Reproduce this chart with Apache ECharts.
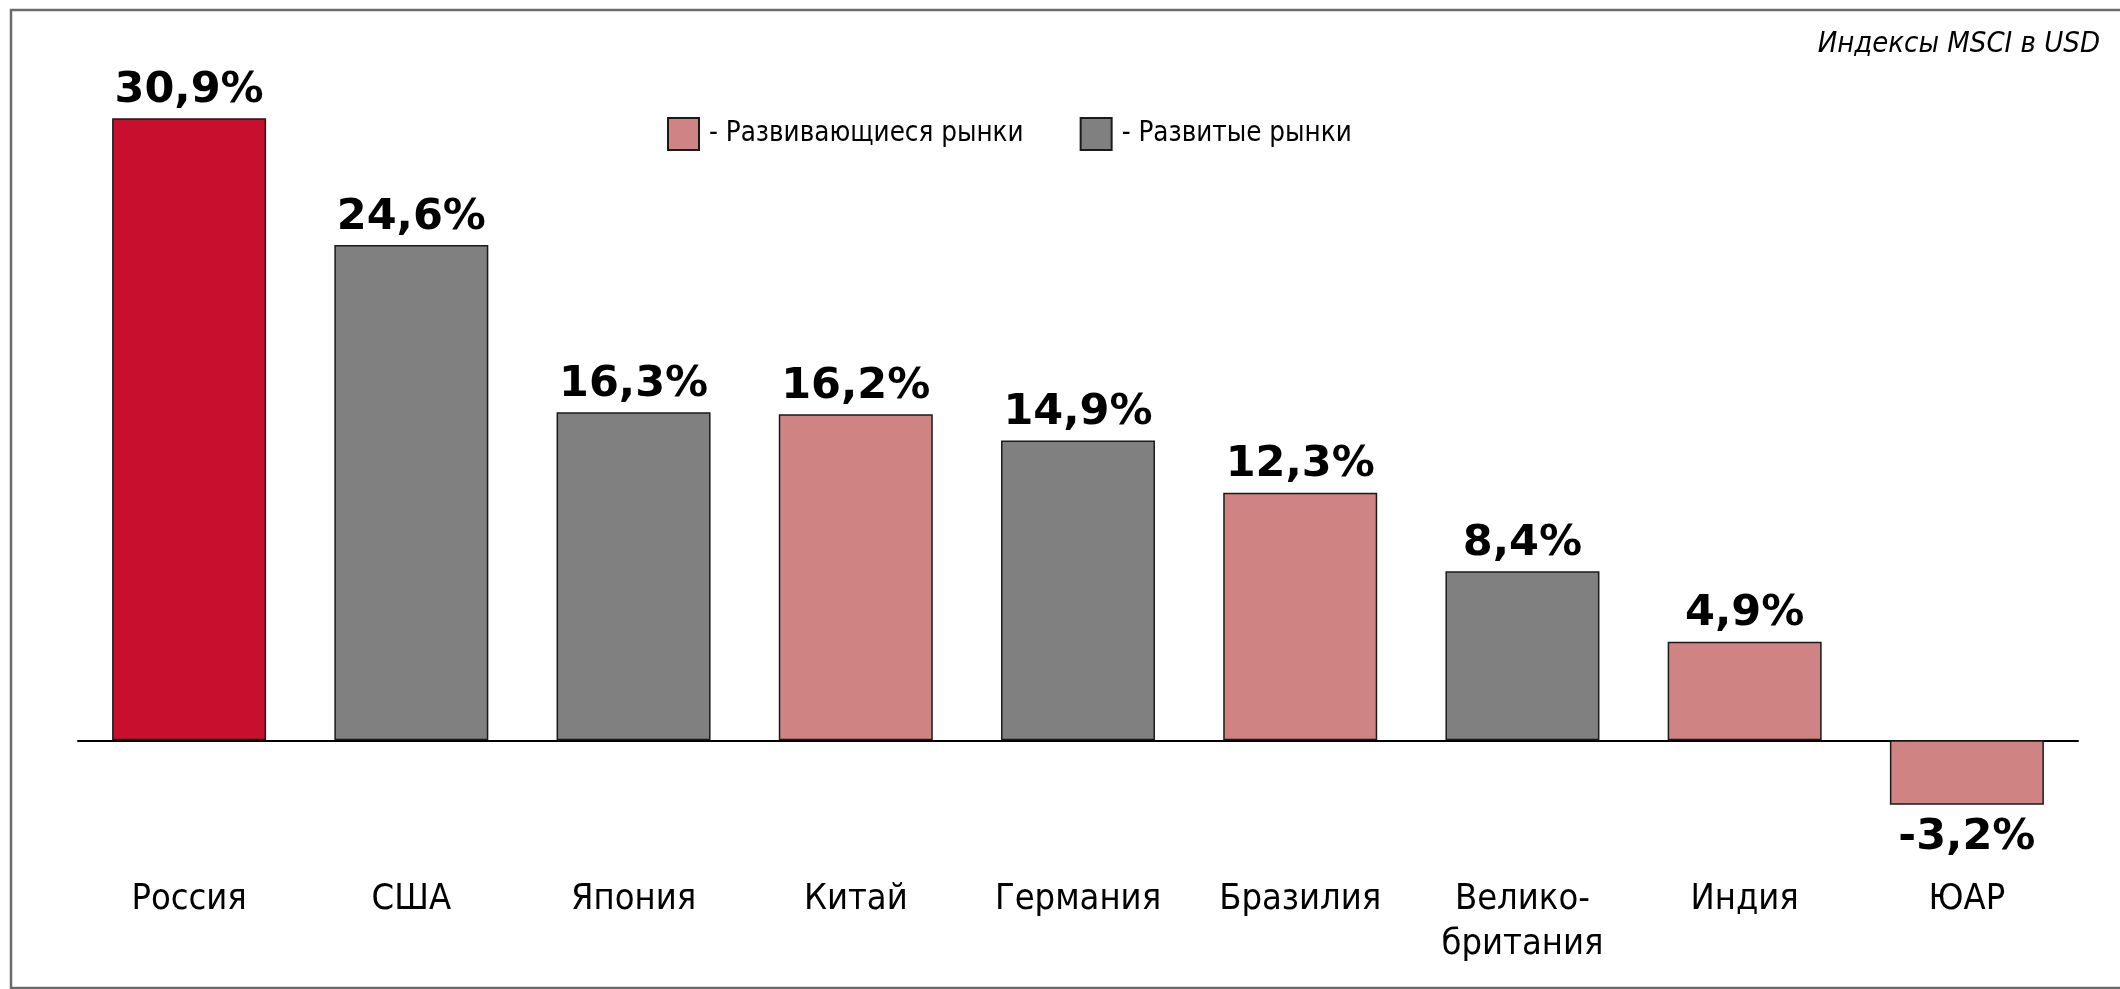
<!DOCTYPE html>
<html>
<head>
<meta charset="utf-8">
<title>Индексы MSCI в USD</title>
<script src="https://cdn.jsdelivr.net/npm/echarts@6/dist/echarts.min.js"></script>
<style>
  html, body { margin: 0; padding: 0; background: #fff; }
  #chart { width: 2120px; height: 989px; }
</style>
</head>
<body>
<div id="chart"></div>
<script>
// данные
const countries = ['Россия', 'США', 'Япония', 'Китай', 'Германия', 'Бразилия', 'Велико-\nбритания', 'Индия', 'ЮАР']
const returns = [30.9, 24.6, 16.3, 16.2, 14.9, 12.3, 8.4, 4.9, -3.2]
// тип рынка: focus - Россия, em - развивающиеся, dm - развитые
const marketType = ['focus', 'dm', 'dm', 'em', 'dm', 'em', 'dm', 'em', 'em']
const legendNames = ['Развивающиеся рынки', 'Развитые рынки']

const colors = { focus: '#c8102e', em: '#d08383', dm: '#808080' }
const font = '"DejaVu Sans Condensed", "Liberation Sans", sans-serif'

const barData = returns.map((v, i) => ({
  value: v,
  itemStyle: { color: colors[marketType[i]] },
  label: v < 0 ? { position: 'bottom', distance: 12 } : { position: 'top', distance: 6 }
}))

const option = {
  animation: false,
  title: {
    text: 'Индексы MSCI в USD',
    right: 15,
    top: 25,
    textStyle: { fontFamily: font, fontSize: 29, fontWeight: 'normal', fontStyle: 'italic', color: '#000' }
  },
  legend: {
    left: 667,
    top: 117,
    padding: 0,
    itemWidth: 31,
    itemHeight: 32,
    itemGap: 56,
    icon: 'rect',
    data: legendNames,
    formatter: '- {name}',
    textStyle: { fontFamily: font, fontSize: 27.5, color: '#000', padding: [0, 0, 0, 5] }
  },
  // подписи ниже сетки, поэтому outerBounds отключаем
  grid: { left: 78, right: 42, top: 76, bottom: 148, outerBoundsMode: 'none' },
  xAxis: {
    type: 'category',
    data: countries,
    axisLine: { onZero: true, lineStyle: { color: '#000', width: 2 } },
    axisTick: { show: false },
    axisLabel: { margin: 36, fontFamily: font, fontSize: 36, lineHeight: 45, color: '#000', interval: 0 }
  },
  yAxis: {
    type: 'value',
    min: -5,
    max: 33,
    show: false,
    splitLine: { show: false }
  },
  series: [
    {
      name: 'returns',
      type: 'bar',
      stack: 'all',
      barWidth: 154,
      data: barData,
      itemStyle: { borderColor: '#1a1a1a', borderWidth: 1.5 },
      label: {
        show: true,
        fontFamily: '"DejaVu Sans", sans-serif',
        fontSize: 43,
        fontWeight: 'bold',
        color: '#000',
        formatter: p => String(p.value).replace('.', ',') + '%'
      }
    },
    {
      name: legendNames[0],
      type: 'bar',
      stack: 'all',
      data: [],
      itemStyle: { color: colors.em, borderColor: '#1a1a1a', borderWidth: 1.5 }
    },
    {
      name: legendNames[1],
      type: 'bar',
      stack: 'all',
      data: [],
      itemStyle: { color: colors.dm, borderColor: '#1a1a1a', borderWidth: 1.5 }
    }
  ],
  graphic: [
    {
      type: 'rect',
      shape: { x: 11, y: 10, width: 2120, height: 978 },
      style: { fill: 'none', stroke: '#6b6b6b', lineWidth: 2.5 },
      silent: true
    }
  ]
}

const chart = echarts.init(document.getElementById('chart'))
chart.setOption(option)
</script>
</body>
</html>
